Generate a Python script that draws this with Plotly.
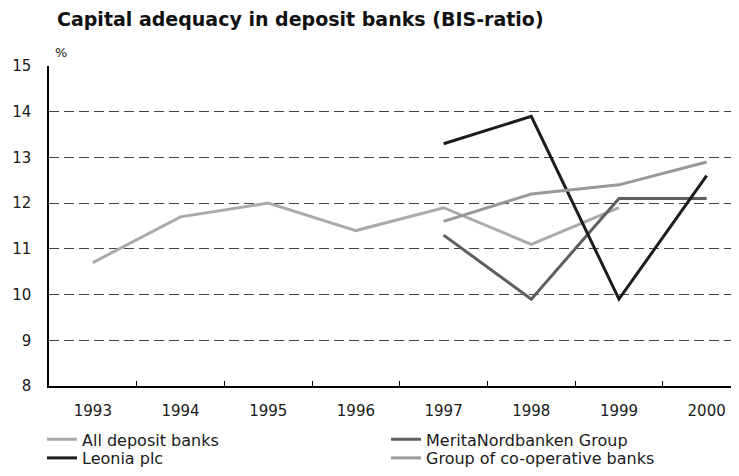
import plotly.graph_objects as go

years = ["1993", "1994", "1995", "1996", "1997", "1998", "1999", "2000"]

all_deposit = [10.7, 11.7, 12.0, 11.4, 11.9, 11.1, 11.9, None]
merita = [None, None, None, None, 11.3, 9.9, 12.1, 12.1]
leonia = [None, None, None, None, 13.3, 13.9, 9.9, 12.6]
coop = [None, None, None, None, 11.6, 12.2, 12.4, 12.9]

# (name, values, colour, legend row)
series = [
    ("All deposit banks", all_deposit, "#ababab", "legend"),
    ("MeritaNordbanken Group", merita, "#5f5f5f", "legend"),
    ("Leonia plc", leonia, "#1c1c1c", "legend2"),
    ("Group of co-operative banks", coop, "#999999", "legend2"),
]

fig = go.Figure()
for name, vals, col, leg in series:
    fig.add_trace(go.Scatter(
        x=years, y=vals, name=name, mode="lines",
        line=dict(color=col, width=3), legend=leg,
    ))

row_legend = dict(
    orientation="h", x=-0.01, xanchor="left", yanchor="middle",
    entrywidth=299, entrywidthmode="pixels", itemwidth=30,
    font=dict(size=16, color="#1a1a1a"), bgcolor="rgba(0,0,0,0)",
)

fig.update_layout(
    width=739, height=476,
    paper_bgcolor="white", plot_bgcolor="white",
    font=dict(family="DejaVu Sans", size=15, color="#1a1a1a"),
    margin=dict(l=41, r=0, t=58, b=98, autoexpand=False),
    title=dict(
        text="<b>Capital adequacy in deposit banks (BIS-ratio)</b>",
        x=49 / 739, xref="container", xanchor="left",
        y=1 - 11 / 476, yref="container", yanchor="middle",
        font=dict(size=19, color="#111"),
    ),
    showlegend=True,
    legend=dict(row_legend, y=-0.167),
    legend2=dict(row_legend, y=-0.225),
)

fig.update_xaxes(
    type="category", range=[-0.5, 7.46],
    showline=True, linecolor="black", linewidth=1.5,
    ticks="inside", tickson="boundaries", ticklen=5, tickcolor="black",
    showgrid=False, ticklabelstandoff=10,
)
fig.update_yaxes(
    range=[8, 15], dtick=1, tick0=8,
    showline=True, linecolor="black", linewidth=1.5,
    showgrid=True, gridcolor="#444", griddash="10px,5px", gridwidth=1,
    zeroline=False, ticks="", ticklabelstandoff=13,
)

fig.add_annotation(
    text="%", xref="paper", yref="paper", x=0.006, y=1.0,
    xanchor="left", yanchor="middle", showarrow=False,
    font=dict(size=13, color="#1a1a1a"), yshift=14,
)

fig.write_html("out.html")
